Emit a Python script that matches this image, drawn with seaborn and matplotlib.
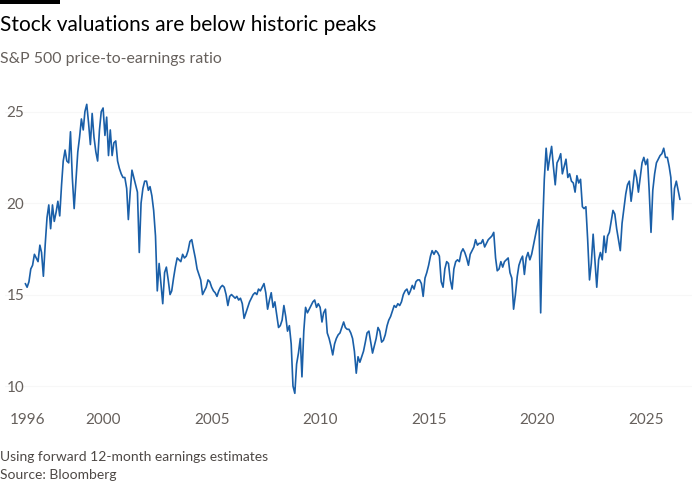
import pandas as pd
import seaborn as sns
import matplotlib.pyplot as plt
from matplotlib.patches import Rectangle

# monthly forward P/E readings, June 1996 onwards
pe_ratio = [
    15.6, 15.4, 15.7, 16.4, 16.6, 17.2, 17.0,                          # 1996 Jun-Dec
    16.8, 17.7, 17.3, 16.0, 17.7, 19.2, 19.9, 18.6, 19.9, 19.0, 19.5, 20.1,  # 1997
    19.3, 21.0, 22.3, 22.9, 22.3, 22.2, 23.9, 21.4, 19.7, 21.2, 22.8, 23.6,  # 1998
    24.6, 24.0, 25.0, 25.4, 24.4, 23.2, 24.9, 23.6, 22.8, 22.3, 24.0, 25.0,  # 1999
    25.2, 23.7, 24.7, 22.6, 24.0, 22.6, 23.3, 23.4, 22.3, 21.9, 21.6, 21.4,  # 2000
    21.4, 20.8, 19.1, 20.6, 21.8, 21.4, 21.0, 20.6, 17.3, 20.0, 20.8, 21.2,  # 2001
    21.2, 20.7, 20.9, 20.4, 19.6, 18.2, 15.2, 16.7, 15.6, 14.5, 16.2, 16.5,  # 2002
    15.8, 15.0, 15.2, 15.9, 16.5, 17.0, 16.9, 16.8, 17.2, 17.0, 17.1, 17.4,  # 2003
    17.9, 18.0, 17.5, 17.0, 16.4, 16.1, 15.8, 15.0, 15.2, 15.4, 15.8, 15.7,  # 2004
    15.4, 15.2, 15.1, 14.9, 15.2, 15.4, 15.5, 15.4, 15.0, 14.4, 14.9, 15.0,  # 2005
    14.9, 14.8, 14.9, 14.7, 14.8, 14.5, 13.7, 14.0, 14.3, 14.6, 14.8, 15.0,  # 2006
    15.1, 15.0, 15.3, 15.2, 15.4, 15.6, 15.1, 14.2, 14.7, 15.1, 14.3, 14.6,  # 2007
    13.9, 13.2, 13.3, 13.6, 14.4, 13.8, 13.0, 13.3, 12.3, 10.0, 9.6, 11.2,   # 2008
    11.8, 12.6, 10.5, 13.0, 14.3, 14.0, 14.2, 14.4, 14.6, 14.7, 14.3, 14.5,  # 2009
    14.3, 13.5, 14.0, 14.2, 12.9, 12.6, 12.2, 11.7, 12.3, 12.6, 12.8, 12.9,  # 2010
    13.2, 13.5, 13.2, 13.1, 13.1, 12.9, 12.6, 11.9, 10.7, 11.6, 11.3, 11.6,  # 2011
    11.9, 12.4, 12.9, 13.0, 12.4, 11.8, 12.2, 12.6, 13.2, 13.0, 12.4, 12.5,  # 2012
    12.8, 13.3, 13.6, 13.8, 14.1, 14.4, 14.3, 14.5, 14.4, 14.6, 15.0, 15.2,  # 2013
    15.3, 15.0, 15.2, 15.5, 15.3, 15.7, 15.8, 15.8, 15.6, 14.9, 15.9, 16.2,  # 2014
    16.6, 17.1, 17.4, 17.2, 17.4, 17.3, 17.1, 15.7, 15.4, 16.4, 16.8, 16.7,  # 2015
    15.8, 15.3, 16.4, 16.8, 16.9, 16.8, 17.3, 17.5, 17.3, 17.0, 16.6, 17.2,  # 2016
    17.4, 17.6, 18.0, 17.7, 17.8, 17.8, 18.0, 17.6, 17.8, 18.0, 18.1, 18.2,  # 2017
    18.4, 17.0, 16.3, 16.4, 16.8, 16.5, 16.8, 16.9, 17.0, 16.2, 15.9, 14.2,  # 2018
    15.0, 16.0, 16.6, 16.9, 17.1, 16.1, 17.0, 17.3, 16.9, 17.2, 17.7, 18.2,  # 2019
    18.7, 19.1, 14.0, 18.5, 21.3, 23.0, 21.8, 22.5, 23.1, 22.0, 21.0, 22.2,  # 2020
    22.4, 22.7, 21.6, 22.0, 22.4, 21.4, 21.6, 21.2, 21.1, 20.6, 21.5, 21.1,  # 2021
    21.3, 19.8, 19.7, 19.8, 18.0, 15.8, 16.7, 18.3, 16.8, 15.4, 16.9, 17.3,  # 2022
    16.9, 18.2, 17.3, 18.2, 18.4, 19.0, 19.6, 19.4, 18.6, 18.0, 17.4, 18.9,  # 2023
    19.7, 20.5, 21.0, 21.2, 20.1, 20.9, 21.8, 21.4, 20.6, 21.4, 22.2, 22.5,  # 2024
    22.1, 22.4, 20.7, 18.4, 20.7, 21.6, 22.2, 22.4, 22.6, 22.7, 23.0, 22.5,  # 2025
    22.5, 22.0, 21.4, 19.1, 20.8, 21.2, 20.7, 20.2,                          # 2026 Jan-Aug
]
first_month = "1996-06-01"

y_ticks = [10, 15, 20, 25]
tick_dates = ["1996-07-01", "2000-01-01", "2005-01-01", "2010-01-01",
              "2015-01-01", "2020-01-01", "2025-01-01"]
tick_labels = ["1996", "2000", "2005", "2010", "2015", "2020", "2025"]

df = pd.DataFrame({
    "date": pd.date_range(first_month, periods=len(pe_ratio), freq="MS"),
    "pe": pe_ratio,
})

sns.set_theme(style="white")
plt.rcParams["font.family"] = ["Lato", "DejaVu Sans"]

fig = plt.figure(figsize=(7, 5), dpi=100)
fig.patch.set_facecolor("white")
ax = fig.add_axes([5 / 700, 1 - 400 / 500, 687 / 700, 305 / 500])

for v in y_ticks:
    ax.axhline(v, color="#f7f7f7", linewidth=0.8, zorder=0)

sns.lineplot(data=df, x="date", y="pe", ax=ax, color="#1a5fa8", linewidth=1.2)

ax.set_xlim(pd.Timestamp("1995-06-25"), pd.Timestamp("2027-02-20"))
ax.set_ylim(9.235, 25.91)
ax.set_yticks(y_ticks)
ax.set_yticklabels([str(v) for v in y_ticks])
ax.set_xticks(pd.to_datetime(tick_dates))
ax.set_xticklabels(tick_labels)
ax.set_xlabel("")
ax.set_ylabel("")
sns.despine(ax=ax, left=True, bottom=True)

ax.tick_params(axis="y", direction="in", length=0, pad=-1, labelsize=11, labelcolor="#66605c")
for lab in ax.get_yticklabels():
    lab.set_horizontalalignment("left")
ax.tick_params(axis="x", length=0, pad=9, labelsize=11, labelcolor="#66605c")

# header and footer
fig.add_artist(Rectangle((0, 1 - 4 / 500), 60 / 700, 4 / 500, transform=fig.transFigure,
                         color="black", linewidth=0))
fig.text(0.0, 1 - 31 / 500, "Stock valuations are below historic peaks",
         fontsize=15, color="#000000", va="baseline")
fig.text(0.0, 1 - 63 / 500, "S&P 500 price-to-earnings ratio",
         fontsize=11.4, color="#66605c", va="baseline")
fig.text(0.0, 1 - 461 / 500, "Using forward 12-month earnings estimates",
         fontsize=10, color="#4d4845", va="baseline")
fig.text(0.0, 1 - 479 / 500, "Source: Bloomberg",
         fontsize=10, color="#4d4845", va="baseline")

fig.savefig("out.png", dpi=100, facecolor="white")
